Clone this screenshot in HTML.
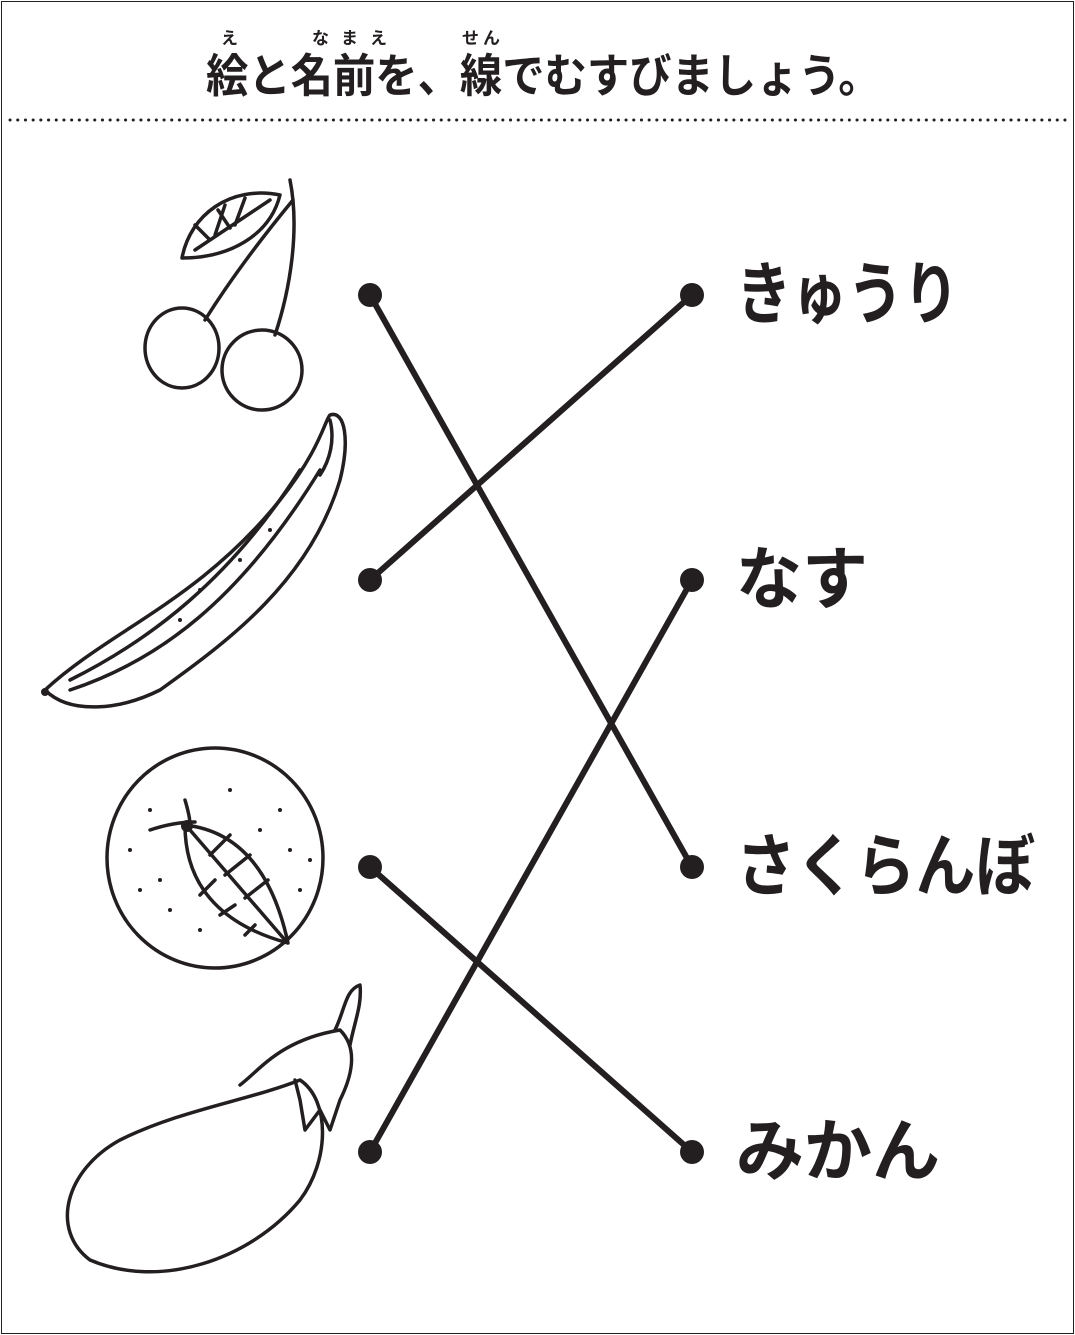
<!DOCTYPE html>
<html><head><meta charset="utf-8"><style>
html,body{margin:0;padding:0;background:#fff}
#p{position:relative;width:1075px;height:1335px;overflow:hidden;background:#fff}
.t{position:absolute;font-family:"Liberation Sans","Noto Sans CJK JP",sans-serif;font-weight:bold;color:#231f20;white-space:nowrap;transform-origin:0 50%}
</style></head><body><div id="p">
<div style="position:absolute;left:1px;top:1px;width:1071px;height:1331px;border:1px solid #231f20"></div>
<div class="t" style="left:206px;top:48px;font-size:46px;line-height:56px;transform:scaleX(0.92)">絵と名前を、線でむすびましょう。</div>
<div class="t" style="left:221px;top:29px;font-size:17px;line-height:20px">え</div>
<div class="t" style="left:312px;top:29px;font-size:17px;line-height:20px;letter-spacing:12px">なまえ</div>
<div class="t" style="left:462px;top:29px;font-size:17px;line-height:20px;letter-spacing:4px">せん</div>
<svg width="1075" height="1335" style="position:absolute;left:0;top:0" fill="none" stroke="#231f20" stroke-linecap="round" stroke-linejoin="round">
<line x1="10" y1="120" x2="1068" y2="120" stroke-width="3" stroke-dasharray="0.1 7.6"/>
<g stroke-width="6">
<line x1="370" y1="295" x2="692" y2="867"/>
<line x1="370" y1="580" x2="692" y2="295"/>
<line x1="370" y1="867" x2="692" y2="1152"/>
<line x1="370" y1="1152" x2="692" y2="580"/>
</g>
<g fill="#231f20" stroke="none">
<circle cx="370" cy="295" r="12"/><circle cx="370" cy="580" r="12"/><circle cx="370" cy="867" r="12"/><circle cx="370" cy="1152" r="12"/>
<circle cx="692" cy="295" r="12"/><circle cx="692" cy="580" r="12"/><circle cx="692" cy="867" r="12"/><circle cx="692" cy="1152" r="12"/>
</g>
<g stroke-width="3.5">
<path d="M182,258 C190,215 230,185 280,195 C270,235 230,258 182,258Z"/>
<path d="M195,250 L270,200 M215,235 L225,205 M235,225 L245,198 M210,240 L195,225 M230,228 L218,210"/>
<path d="M290,180 C300,230 290,290 275,335 M293,200 C260,240 230,280 205,320"/>
<ellipse cx="182" cy="348" rx="37" ry="40"/>
<ellipse cx="262" cy="370" rx="40" ry="40"/>
<path d="M45,690 C110,630 200,600 280,500 C320,450 325,420 330,415 C345,410 350,440 340,480 C310,580 230,640 160,690 C120,710 70,715 45,690Z"/>
<path d="M70,680 C150,640 230,580 300,470 M70,690 C160,660 240,600 320,470 M330,420 C335,440 330,460 320,475"/>
<ellipse cx="215" cy="858" rx="108" ry="110"/>
<path d="M185,825 C230,830 270,860 288,943 C240,930 185,900 185,825Z"/>
<path d="M190,830 L285,940 M210,855 L230,835 M225,875 L250,855 M245,898 L268,880 M215,880 L200,895 M235,905 L220,915 M255,925 L245,935"/>
<path d="M150,830 C165,825 180,822 195,822 M185,800 C188,810 190,818 190,825"/>
<path d="M90,1260 C50,1230 65,1170 120,1140 C180,1110 250,1100 300,1080 C330,1100 330,1160 300,1200 C250,1260 160,1290 90,1260Z"/>
<path d="M240,1085 C260,1070 280,1040 340,1030 C360,1050 350,1080 340,1100 L330,1130 L320,1110 L305,1130 L300,1100 L295,1080"/>
<path d="M335,1030 C345,1010 345,990 360,985 C362,1005 355,1020 350,1045"/>
</g>
<g fill="#231f20" stroke="none">
<circle cx="45" cy="692" r="4"/><circle cx="187" cy="826" r="6"/>
<circle cx="150" cy="810" r="2"/><circle cx="130" cy="850" r="2"/><circle cx="160" cy="880" r="2"/><circle cx="170" cy="910" r="2"/><circle cx="140" cy="890" r="2"/><circle cx="260" cy="830" r="2"/><circle cx="290" cy="850" r="2"/><circle cx="300" cy="890" r="2"/><circle cx="280" cy="810" r="2"/><circle cx="200" cy="930" r="2"/><circle cx="230" cy="790" r="2"/><circle cx="310" cy="860" r="2"/>
<circle cx="200" cy="590" r="2"/><circle cx="240" cy="560" r="2"/><circle cx="270" cy="530" r="2"/><circle cx="180" cy="620" r="2"/>
</g>
</svg>
<div class="t" style="left:736px;top:255px;font-size:68px;line-height:80px;transform:scaleX(0.82)">きゅうり</div>
<div class="t" style="left:736px;top:540px;font-size:68px;line-height:80px;transform:scaleX(0.97)">なす</div>
<div class="t" style="left:736px;top:827px;font-size:68px;line-height:80px;transform:scaleX(0.88)">さくらんぼ</div>
<div class="t" style="left:736px;top:1112px;font-size:68px;line-height:80px">みかん</div>
</div></body></html>
